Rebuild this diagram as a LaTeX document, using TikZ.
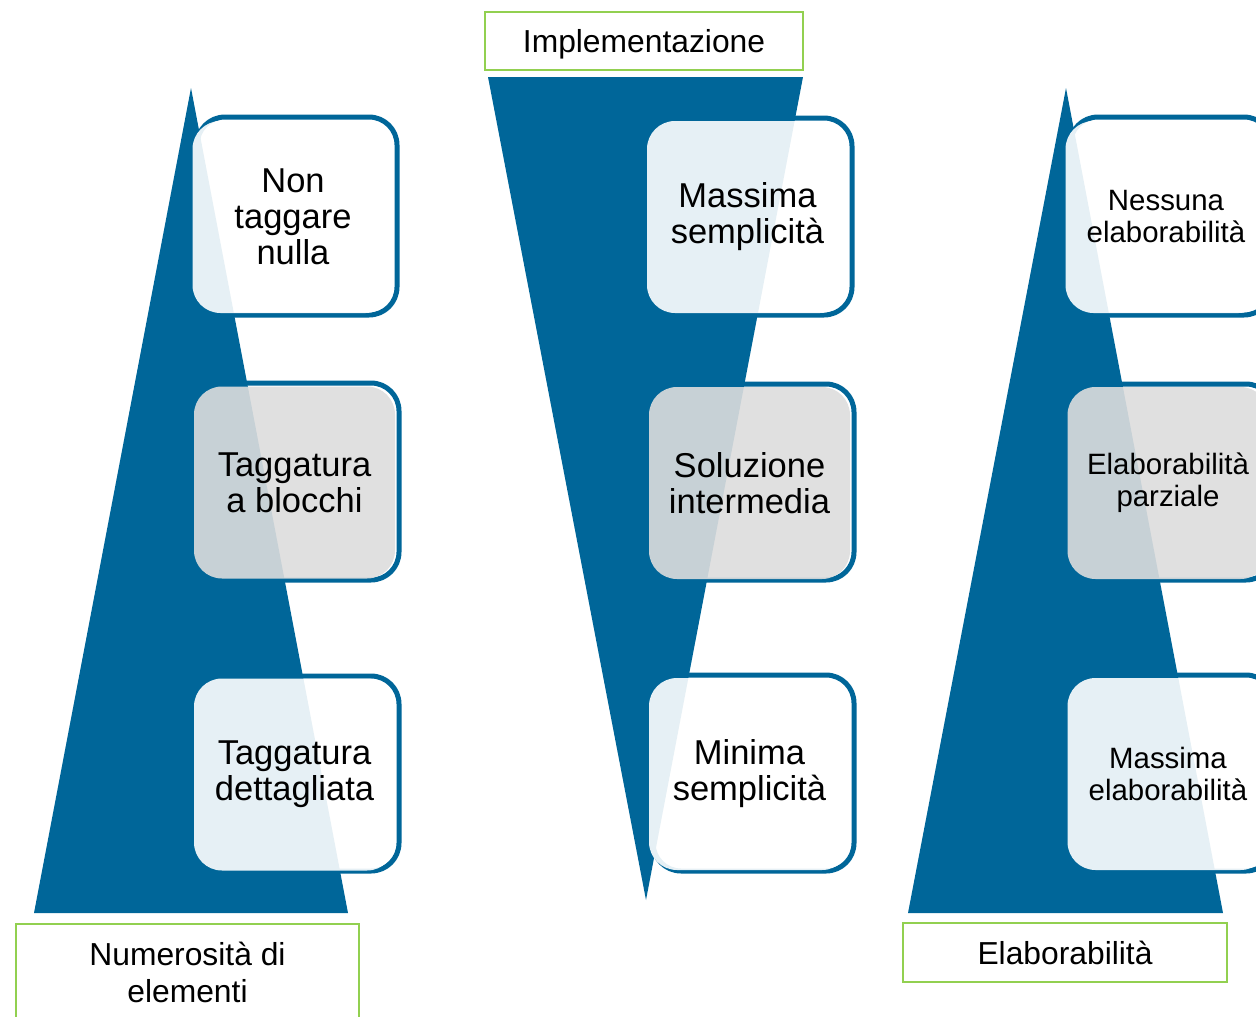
\documentclass[tikz,border=0pt]{standalone}
\usepackage{fontspec}
\setmainfont{Liberation Sans}
\usetikzlibrary{positioning}

\definecolor{triblue}{RGB}{0,102,153}
\definecolor{labgreen}{RGB}{146,208,80}
\definecolor{midgray}{RGB}{221,221,221}

\begin{document}
\begin{tikzpicture}[x=1pt,y=-1pt,
    tri/.style={fill=triblue},
    edge/.style={draw=triblue,line width=5pt,rounded corners=28pt},
    card/.style={fill=white,fill opacity=0.9,text opacity=1,rounded corners=28pt,
        minimum width=201pt,minimum height=192pt,inner sep=0pt,align=center,
        font=\fontsize{34.5}{36}\selectfont},
    graycard/.style={card,fill=midgray},
    small/.style={font=\fontsize{29.4}{32}\selectfont},
    lab/.style={draw=labgreen,line width=2.5pt,fill=white,inner sep=0pt,align=center,
        font=\fontsize{31.8}{37}\selectfont}]
    \useasboundingbox (0,0) rectangle (1256,1017);

    % triangles
    \fill[tri] (191,88) -- (348,913) -- (34,913) -- cycle;
    \fill[tri] (488,77) -- (803,77) -- (646,900) -- cycle;
    \fill[tri] (1066,88) -- (1223,913) -- (908,913) -- cycle;

    % outlines of the boxes
    \draw[edge] (197,117) rectangle (397,315);
    \draw[edge] (198,383) rectangle (399,580);
    \draw[edge] (198,676) rectangle (399,871);
    \draw[edge] (651,118) rectangle (852,315);
    \draw[edge] (653,384) rectangle (854,580);
    \draw[edge] (653,675) rectangle (854,871);
    \draw[edge] (1070,117) rectangle (1272,315);
    \draw[edge] (1072,384) rectangle (1274,580);
    \draw[edge] (1072,675) rectangle (1274,871);

    % left column
    \node[card] (nontag) at (293,217) {Non\\taggare\\nulla};
    \node[graycard] (blocchi) at (294.5,482.5) {Taggatura\\a blocchi};
    \node[card] (dettagli) at (294.5,774.5) {Taggatura\\dettagliata};

    % middle column
    \node[card] (maxsemp) at (747.5,217) {Massima\\semplicità};
    \node[graycard] (intermedia) at (749.5,483) {Soluzione\\intermedia};
    \node[card] (minsemp) at (749.5,774) {Minima\\semplicità};

    % right column
    \node[card,small] (nessuna) at (1166,217) {Nessuna\\elaborabilità};
    \node[graycard,small] (parziale) at (1168,483) {Elaborabilità\\parziale};
    \node[card,small] (maxelab) at (1168,774) {Massima\\elaborabilità};

    % labels
    \node[lab,text depth=0pt,minimum width=318pt,minimum height=58pt] (impl) at (644,41) {Implementazione};
    \node[lab,minimum width=343pt,minimum height=96pt] (numero) at (187.5,972) {Numerosità di\\elementi};
    \node[lab,minimum width=324pt,minimum height=59pt] (elab) at (1065,952.5) {Elaborabilità};
\end{tikzpicture}
\end{document}
